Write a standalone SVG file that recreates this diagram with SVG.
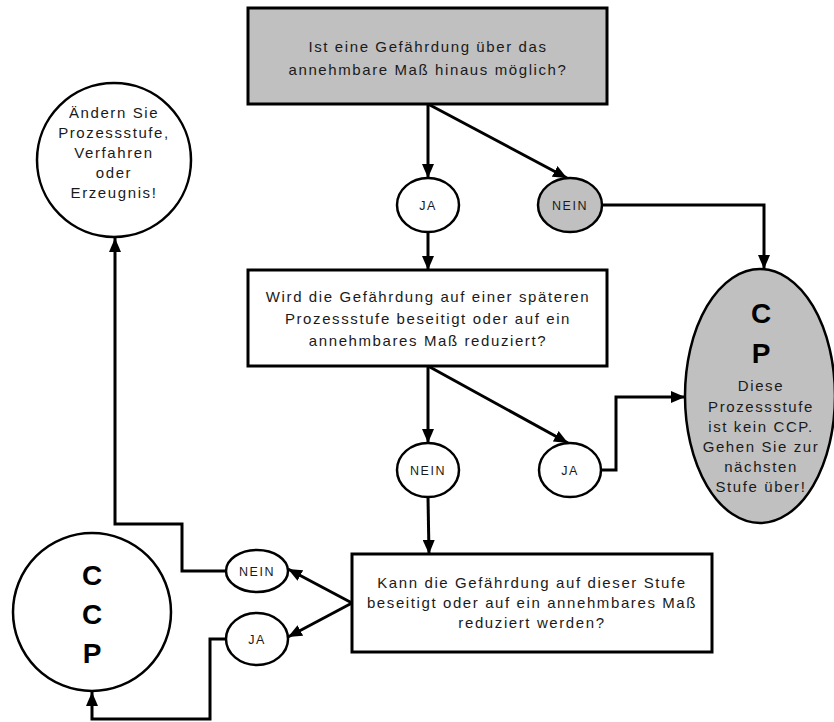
<svg xmlns="http://www.w3.org/2000/svg" width="834" height="722" viewBox="0 0 834 722">
  <style>
    .box { fill: #ffffff; stroke: #000; stroke-width: 3; }
    .oval { fill: #ffffff; stroke: #000; stroke-width: 2.5; }
    .box.grey, .oval.grey { fill: #c0c0c0; }
    .t { font-family: "Liberation Sans", Arial, sans-serif; font-size: 15px; fill: #1a1a1a; text-anchor: middle; letter-spacing: 1.6px; }
    .s { font-family: "Liberation Sans", Arial, sans-serif; font-size: 12.5px; fill: #1a1a1a; text-anchor: middle; letter-spacing: 1.5px; }
    .b { font-family: "Liberation Sans", Arial, sans-serif; font-size: 28px; font-weight: bold; fill: #000; text-anchor: middle; }
    .link { fill: none; stroke: #000; stroke-width: 3; marker-end: url(#arrow); }
  </style>
  <defs>
    <marker id="arrow" viewBox="0 0 14 12" refX="14" refY="6" markerWidth="14" markerHeight="12" markerUnits="userSpaceOnUse" orient="auto">
      <path d="M0,0 L14,6 L0,12 z" fill="#000"/>
    </marker>
  </defs>

  <rect width="834" height="722" fill="#ffffff"/>

  <!-- connectors -->
  <g id="connectors">
    <path class="link" d="M428,104 V178"/>
    <path class="link" d="M428,104 L567,178"/>
    <path class="link" d="M602,205 H764 V269"/>
    <path class="link" d="M428,232 V270"/>
    <path class="link" d="M428,366 V443"/>
    <path class="link" d="M428,366 L568,443"/>
    <path class="link" d="M601,470 H616 V397 H685"/>
    <path class="link" d="M428,497 L429,554"/>
    <path class="link" d="M352,603 L288,569"/>
    <path class="link" d="M352,603 L288,637"/>
    <path class="link" d="M226,571 H182 V524 H115 V238"/>
    <path class="link" d="M226,639 H210 V719 H92 V692"/>
  </g>

  <!-- question 1 -->
  <g id="q1">
    <rect class="box grey" x="248" y="8" width="359" height="96"/>
    <text class="t" x="428" y="52">Ist eine Gefährdung über das</text>
    <text class="t" x="428" y="75">annehmbare Maß hinaus möglich?</text>
  </g>

  <!-- change step -->
  <g id="change">
    <circle class="oval" cx="114" cy="160" r="77"/>
    <text class="t" x="114" y="118">Ändern Sie</text>
    <text class="t" x="114" y="138">Prozessstufe,</text>
    <text class="t" x="114" y="158">Verfahren</text>
    <text class="t" x="114" y="178">oder</text>
    <text class="t" x="114" y="198">Erzeugnis!</text>
  </g>

  <g id="ja1">
    <ellipse class="oval" cx="428" cy="205" rx="31" ry="27"/>
    <text class="s" x="428" y="209.5">JA</text>
  </g>

  <g id="nein1">
    <ellipse class="oval grey" cx="570" cy="205" rx="32" ry="27"/>
    <text class="s" x="570" y="209.5">NEIN</text>
  </g>

  <!-- question 2 -->
  <g id="q2">
    <rect class="box" x="248" y="270" width="359" height="96"/>
    <text class="t" x="428" y="302">Wird die Gefährdung auf einer späteren</text>
    <text class="t" x="428" y="324">Prozessstufe beseitigt oder auf ein</text>
    <text class="t" x="428" y="346">annehmbares Maß reduziert?</text>
  </g>

  <!-- no CCP -->
  <g id="cp">
    <ellipse class="oval grey" cx="760" cy="396" rx="75" ry="127"/>
    <text class="b" x="761" y="323">C</text>
    <text class="b" x="761" y="363">P</text>
    <text class="t" x="761" y="391">Diese</text>
    <text class="t" x="761" y="412">Prozessstufe</text>
    <text class="t" x="761" y="432">ist kein CCP.</text>
    <text class="t" x="761" y="452">Gehen Sie zur</text>
    <text class="t" x="761" y="472">nächsten</text>
    <text class="t" x="761" y="492">Stufe über!</text>
  </g>

  <g id="nein2">
    <ellipse class="oval" cx="428" cy="470" rx="31" ry="27"/>
    <text class="s" x="428" y="474.5">NEIN</text>
  </g>

  <g id="ja2">
    <ellipse class="oval" cx="570" cy="470" rx="31" ry="27"/>
    <text class="s" x="570" y="474.5">JA</text>
  </g>

  <!-- question 3 -->
  <g id="q3">
    <rect class="box" x="352" y="554" width="360" height="98"/>
    <text class="t" x="532" y="588">Kann die Gefährdung auf dieser Stufe</text>
    <text class="t" x="532" y="608">beseitigt oder auf ein annehmbares Maß</text>
    <text class="t" x="532" y="628">reduziert werden?</text>
  </g>

  <g id="nein3">
    <ellipse class="oval" cx="257" cy="571" rx="31" ry="21"/>
    <text class="s" x="257" y="575.5">NEIN</text>
  </g>

  <g id="ja3">
    <ellipse class="oval" cx="257" cy="639" rx="31" ry="26"/>
    <text class="s" x="257" y="643.5">JA</text>
  </g>

  <!-- CCP -->
  <g id="ccp">
    <circle class="oval" cx="92" cy="612" r="79"/>
    <text class="b" x="92" y="585">C</text>
    <text class="b" x="92" y="624">C</text>
    <text class="b" x="92" y="663">P</text>
  </g>
</svg>
